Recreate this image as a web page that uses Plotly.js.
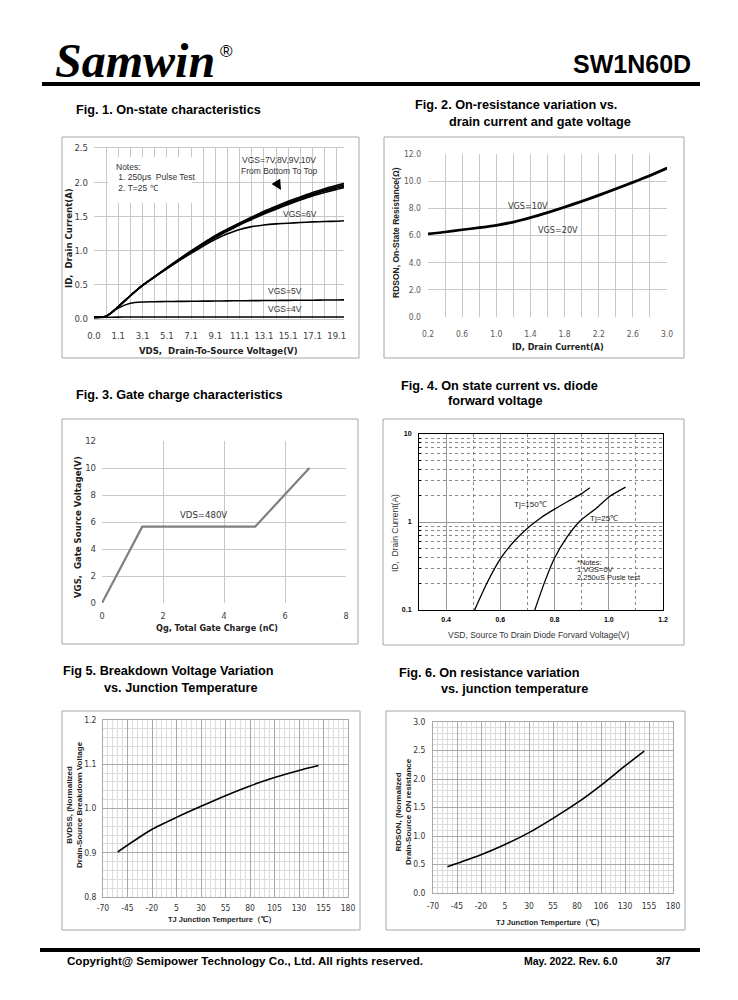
<!DOCTYPE html>
<html><head><meta charset="utf-8">
<script src="https://cdn.plot.ly/plotly-3.0.1.min.js"></script>
<style>html,body{margin:0;padding:0;background:#fff}#chart{width:738px;height:1000px}</style>
</head><body><div id="chart"></div>
<script>
// ---------- Fig.1 On-state characteristics ----------
const fig1Cats = ["0.0","0.6","1.1","2.1","3.1","4.1","5.1","6.1","7.1","8.1","9.1","10.1","11.1","12.1","13.1","14.1","15.1","16.1","17.1","18.1","19.1","20.1"];
const fig1TickText = ["0.0","","1.1","","3.1","","5.1","","7.1","","9.1","","11.1","","13.1","","15.1","","17.1","","19.1",""];
const idVgs10 = [0.025,0.04,0.18,0.34,0.49,0.62,0.75,0.875,0.995,1.11,1.22,1.315,1.405,1.49,1.575,1.65,1.72,1.785,1.85,1.905,1.955,1.995];
const idVgs9  = [0.025,0.04,0.18,0.34,0.49,0.62,0.745,0.87,0.99,1.105,1.21,1.305,1.395,1.48,1.56,1.635,1.705,1.77,1.83,1.885,1.935,1.975];
const idVgs8  = [0.025,0.04,0.18,0.34,0.49,0.62,0.745,0.865,0.985,1.1,1.2,1.295,1.385,1.47,1.55,1.62,1.69,1.755,1.815,1.87,1.915,1.955];
const idVgs7  = [0.025,0.04,0.18,0.34,0.49,0.615,0.74,0.86,0.98,1.09,1.19,1.285,1.375,1.455,1.535,1.605,1.675,1.74,1.8,1.85,1.895,1.935];
const idVgs6  = [0.025,0.04,0.18,0.34,0.49,0.615,0.735,0.85,0.96,1.065,1.165,1.245,1.31,1.35,1.375,1.39,1.4,1.41,1.42,1.425,1.43,1.44];
const idVgs5  = [0.02,0.04,0.16,0.23,0.248,0.252,0.255,0.257,0.259,0.261,0.263,0.265,0.267,0.268,0.27,0.271,0.273,0.274,0.275,0.277,0.278,0.28];
const idVgs4  = [0.02,0.025,0.028,0.03,0.03,0.03,0.03,0.03,0.03,0.03,0.03,0.03,0.03,0.03,0.03,0.03,0.03,0.03,0.03,0.03,0.03,0.03];

// ---------- Fig.2 On-resistance vs drain current ----------
const fig2Id = [0.2,0.4,0.6,0.8,1.0,1.2,1.4,1.6,1.8,2.0,2.2,2.4,2.6,2.8,3.0];
const rdsVgs10 = [6.15,6.28,6.45,6.6,6.78,7.02,7.35,7.72,8.12,8.55,9.0,9.47,9.95,10.45,11.0];
const rdsVgs20 = [6.1,6.23,6.4,6.55,6.72,6.96,7.28,7.65,8.05,8.48,8.93,9.4,9.88,10.38,10.92];

// ---------- Fig.3 Gate charge ----------
const fig3Qg  = [0, 1.32, 5.02, 6.8];
const fig3Vgs = [0, 5.65, 5.65, 10];

// ---------- Fig.4 Diode forward ----------
const vsd150 = [0.505,0.55,0.60,0.65,0.70,0.75,0.80,0.85,0.90,0.93];
const id150  = [0.1,0.2,0.38,0.6,0.85,1.12,1.4,1.72,2.1,2.45];
const vsd25  = [0.727,0.764,0.80,0.844,0.893,0.955,1.004,1.062];
const id25   = [0.1,0.21,0.39,0.66,1.02,1.44,1.96,2.49];

// ---------- Fig.5 BVDSS vs Tj ----------
const fig5Tj = [-55,-20,5,30,55,80,105,130,150];
const fig5Bv = [0.902,0.953,0.980,1.005,1.029,1.051,1.070,1.086,1.097];

// ---------- Fig.6 RDSON vs Tj ----------
const fig6Tj = [-55,-20,5,30,55,80,105,130,150];
const fig6Rn = [0.46,0.67,0.85,1.06,1.31,1.58,1.89,2.23,2.49];
const tjTicks = [-70,-45,-20,5,30,55,80,105,130,155,180];
const fig5TickText = ["-70","-45","-20","5","30","55","80","105","130","155","180"];
const fig6TickText = ["-70","-45","-20","5","30","55","80","106","130","155","180"];

// ---------- helpers ----------
const W = 738, H = 1000;
const px = x => x / W;
const py = y => 1 - y / H;
const NARROW = "Liberation Sans Narrow, Arial Narrow, DejaVu Sans Condensed, sans-serif";
const ARIAL = "Liberation Sans, Arial, sans-serif";

function T(text, x, y, o) {
  o = o || {};
  return {
    text: text, x: px(x), y: py(y), xref: 'paper', yref: 'paper', showarrow: false,
    xanchor: o.xa || 'left', yanchor: 'middle', align: o.align || 'left',
    textangle: o.angle || 0,
    font: {family: o.family || ARIAL, size: o.size || 12, color: o.color || '#000',
           weight: o.bold ? 'bold' : 'normal', style: o.italic ? 'italic' : 'normal'}
  };
}
function box(x0, y0, x1, y1, color) {
  return {type: 'rect', xref: 'paper', yref: 'paper', x0: px(x0), x1: px(x1), y0: py(y1), y1: py(y0),
          line: {color: color || '#a6a6a6', width: 1}, fillcolor: 'rgba(0,0,0,0)', layer: 'above'};
}
function hline(x0, x1, y, w) {
  return {type: 'line', xref: 'paper', yref: 'paper', x0: px(x0), x1: px(x1), y0: py(y), y1: py(y),
          line: {color: '#000', width: w}, layer: 'above'};
}
function ax(o) {
  return Object.assign({showgrid: true, zeroline: false, showline: false, ticks: '', fixedrange: true}, o);
}

const traces = [];
function line(x, y, xa, ya, color, width, shape) {
  traces.push({x: x, y: y, xaxis: xa, yaxis: ya, type: 'scatter', mode: 'lines', hoverinfo: 'skip',
    line: {color: color, width: width, shape: shape || 'spline', smoothing: 0.6}});
}
[idVgs4, idVgs5, idVgs6, idVgs7, idVgs8, idVgs9, idVgs10].forEach(s => line(fig1Cats, s, 'x', 'y', '#000', 1.6));
line(fig2Id, rdsVgs20, 'x2', 'y2', '#000', 2);
line(fig2Id, rdsVgs10, 'x2', 'y2', '#000', 2);
line(fig3Qg, fig3Vgs, 'x3', 'y3', '#7f7f7f', 2.2, 'linear');
line(vsd150, id150, 'x4', 'y4', '#000', 1.3);
line(vsd25, id25, 'x4', 'y4', '#000', 1.3);
line(fig5Tj, fig5Bv, 'x5', 'y5', '#000', 1.6);
line(fig6Tj, fig6Rn, 'x6', 'y6', '#000', 1.6);

const tf = (size, color, family, bold) => ({family: family || NARROW, size: size, color: color || '#404040', weight: bold ? 'bold' : 'normal'});

const layout = {
  width: W, height: H, margin: {l: 0, r: 0, t: 0, b: 0}, showlegend: false,
  paper_bgcolor: '#fff', plot_bgcolor: '#fff',
  // Fig 1
  xaxis: ax({anchor: 'y', domain: [px(94), px(344)], type: 'category', categoryorder: 'array', categoryarray: fig1Cats,
    range: [0, 20.6], tickmode: 'array', tickvals: fig1Cats, ticktext: fig1TickText, gridcolor: '#c8c8c8',
    tickfont: tf(9.5), ticklabelstandoff: 8, showline: true, mirror: true, linecolor: '#c8c8c8'}),
  yaxis: ax({anchor: 'x', domain: [py(319), py(148)], range: [0, 2.5], dtick: 0.5, tick0: 0, tickformat: '.1f',
    gridcolor: '#c8c8c8', tickfont: tf(9.5), ticklabelstandoff: 5}),
  // Fig 2
  xaxis2: ax({anchor: 'y2', domain: [px(428), px(667)], range: [0.2, 3.0], tick0: 0.2, dtick: 0.4, tickformat: '.1f',
    gridcolor: '#c8c8c8', tickfont: tf(8.5, '#595959'), ticklabelstandoff: 10,
    minor: {tick0: 0.2, dtick: 0.2, showgrid: true, gridcolor: '#c8c8c8'}}),
  yaxis2: ax({anchor: 'x2', domain: [py(317), py(154)], range: [0, 12], dtick: 2, tick0: 0, tickformat: '.1f',
    gridcolor: '#c8c8c8', tickfont: tf(8.5, '#595959'), ticklabelstandoff: 6}),
  // Fig 3
  xaxis3: ax({anchor: 'y3', domain: [px(102), px(346)], range: [0, 8], dtick: 2, tick0: 0,
    gridcolor: '#c8c8c8', tickfont: tf(9), ticklabelstandoff: 6}),
  yaxis3: ax({anchor: 'x3', domain: [py(603), py(441)], range: [0, 12], dtick: 2, tick0: 0,
    gridcolor: '#c8c8c8', tickfont: tf(9.5), ticklabelstandoff: 5}),
  // Fig 4
  xaxis4: ax({anchor: 'y4', domain: [px(419), px(663)], range: [0.3, 1.2], tickmode: 'array',
    tickvals: [0.4, 0.6, 0.8, 1.0, 1.2], ticktext: ['0.4', '0.6', '0.8', '1.0', '1.2'],
    gridcolor: '#9a9a9a', tickfont: tf(7, '#000', ARIAL, true), ticklabelstandoff: 3,
    showline: true, mirror: true, linecolor: '#000', linewidth: 1,
    minor: {tickvals: [0.5, 0.7, 0.9, 1.1], showgrid: true, gridcolor: '#888', griddash: 'dot'}}),
  yaxis4: ax({anchor: 'x4', domain: [py(610), py(434)], type: 'log', range: [-1, 1], tickmode: 'array',
    tickvals: [0.1, 1, 10], ticktext: ['0.1', '1', '10'], gridcolor: '#9a9a9a',
    tickfont: tf(7, '#000', ARIAL, true), ticklabelstandoff: 5,
    showline: true, mirror: true, linecolor: '#000', linewidth: 1,
    minor: {tickvals: [0.2,0.3,0.4,0.5,0.6,0.7,0.8,0.9,2,3,4,5,6,7,8,9], showgrid: true, gridcolor: '#888', griddash: 'dot',
      ticks: 'inside', ticklen: 2, tickcolor: '#000'}}),
  // Fig 5
  xaxis5: ax({anchor: 'y5', domain: [px(103), px(348)], range: [-70, 180], tickmode: 'array', tickvals: tjTicks, ticktext: fig5TickText,
    gridcolor: '#a8a8a8', tickfont: tf(8.5, '#333'), ticklabelstandoff: 3,
    showline: true, mirror: true, linecolor: '#a8a8a8',
    minor: {tick0: -70, dtick: 5, showgrid: true, gridcolor: '#dcdcdc'}}),
  yaxis5: ax({anchor: 'x5', domain: [py(897), py(720)], range: [0.8, 1.2], tick0: 0.8, dtick: 0.1, tickformat: '.1f',
    gridcolor: '#a8a8a8', tickfont: tf(8.5, '#333'), ticklabelstandoff: 4,
    showline: true, mirror: true, linecolor: '#a8a8a8',
    minor: {tick0: 0.8, dtick: 0.02, showgrid: true, gridcolor: '#dcdcdc'}}),
  // Fig 6
  xaxis6: ax({anchor: 'y6', domain: [px(433), px(673)], range: [-70, 180], tickmode: 'array', tickvals: tjTicks, ticktext: fig6TickText,
    gridcolor: '#a8a8a8', tickfont: tf(8.5, '#333'), ticklabelstandoff: 5,
    showline: true, mirror: true, linecolor: '#a8a8a8',
    minor: {tick0: -70, dtick: 5, showgrid: true, gridcolor: '#dcdcdc'}}),
  yaxis6: ax({anchor: 'x6', domain: [py(893), py(722)], range: [0, 3], tick0: 0, dtick: 0.5, tickformat: '.1f',
    gridcolor: '#a8a8a8', tickfont: tf(8.5, '#333'), ticklabelstandoff: 5,
    showline: true, mirror: true, linecolor: '#a8a8a8',
    minor: {tick0: 0, dtick: 0.1, showgrid: true, gridcolor: '#dcdcdc'}}),
  shapes: [
    hline(42, 700, 84, 4),
    hline(40, 700, 950, 4),
    box(62, 137, 359, 358), box(384, 137, 684, 358),
    box(62, 419, 358, 644), box(383, 419, 684, 645),
    box(62, 711, 360, 930), box(386, 711, 685, 930),
    {type: 'rect', xref: 'paper', yref: 'paper', x0: px(108), x1: px(192), y0: py(203), y1: py(157),
     line: {width: 0}, fillcolor: '#fff', layer: 'above'}
  ],
  annotations: [
    // header / footer
    T('Samwin', 53, 61, {family: 'Liberation Serif, Times New Roman, serif', size: 48, bold: true, italic: true}),
    T('®', 226, 51, {xa: 'center', size: 17}),
    T('SW1N60D', 693, 64, {xa: 'right', size: 25, bold: true}),
    T('Copyright@ Semipower Technology Co., Ltd. All rights reserved.', 65, 960, {size: 11.6, bold: true}),
    T('May. 2022. Rev. 6.0', 522, 961, {size: 10.5, bold: true}),
    T('3/7', 654, 961, {size: 10.5, bold: true}),
    // figure titles
    T('Fig. 1. On-state characteristics', 74, 110, {size: 12.7, bold: true}),
    T('Fig. 2. On-resistance variation vs.', 413, 105, {size: 12.7, bold: true}),
    T('drain current and gate voltage', 447, 122, {size: 12.7, bold: true}),
    T('Fig. 3. Gate charge characteristics', 74, 395, {size: 12.7, bold: true}),
    T('Fig. 4. On state current vs. diode', 399, 386, {size: 12.7, bold: true}),
    T('forward voltage', 446, 401, {size: 12.7, bold: true}),
    T('Fig 5. Breakdown Voltage Variation', 61, 671, {size: 12.7, bold: true}),
    T('vs. Junction Temperature', 102, 688, {size: 12.7, bold: true}),
    T('Fig. 6. On resistance variation', 397, 673, {size: 12.7, bold: true}),
    T('vs. junction temperature', 439, 689, {size: 12.7, bold: true}),
    // fig 1 texts
    T('ID,  Drain Current(A)', 68, 238, {xa: 'center', angle: -90, family: NARROW, size: 9.5, bold: true, color: '#222'}),
    T('VDS,  Drain-To-Source Voltage(V)', 218, 350, {xa: 'center', family: NARROW, size: 9.5, bold: true, color: '#222'}),
    T('Notes:', 114, 167, {family: ARIAL, size: 8.5, color: '#333'}),
    T(' 1. 250μs  Pulse Test', 114, 177, {family: ARIAL, size: 8.5, color: '#333'}),
    T(' 2. T=25 ℃', 114, 188, {family: ARIAL, size: 8.5, color: '#333'}),
    T('VGS=7V,8V,9V,10V', 279, 160, {xa: 'center', size: 8.5, color: '#333'}),
    T('From Bottom To Top', 279, 171, {xa: 'center', size: 8.5, color: '#333'}),
    T('VGS=6V', 300, 214, {xa: 'center', size: 8.5, color: '#333'}),
    T('VGS=5V', 285, 291, {xa: 'center', size: 8.5, color: '#333'}),
    T('VGS=4V', 285, 309, {xa: 'center', size: 8.5, color: '#333'}),
    {x: px(281), y: py(190), xref: 'paper', yref: 'paper', text: '', showarrow: true,
     ax: -6, ay: -10, arrowhead: 2, arrowsize: 1, arrowwidth: 2, arrowcolor: '#000'},
    // fig 2 texts
    T('RDSON, On-State Resistance(Ω)', 396, 233, {xa: 'center', angle: -90, size: 8.5, bold: true, color: '#222'}),
    T('ID, Drain Current(A)', 558, 347, {xa: 'center', family: NARROW, size: 9, bold: true, color: '#222'}),
    T('VGS=10V', 528, 206, {xa: 'center', family: NARROW, size: 9, color: '#333'}),
    T('VGS=20V', 558, 230, {xa: 'center', family: NARROW, size: 9, color: '#333'}),
    // fig 3 texts
    T('VGS,  Gate Source Voltage(V)', 77, 527, {xa: 'center', angle: -90, family: NARROW, size: 9.5, bold: true, color: '#222'}),
    T('Qg, Total Gate Charge (nC)', 217, 628, {xa: 'center', family: NARROW, size: 9, bold: true, color: '#222'}),
    T('VDS=480V', 203, 514, {xa: 'center', family: NARROW, size: 9.5, color: '#333'}),
    // fig 4 texts
    T('ID,  Drain Current(A)', 395, 533, {xa: 'center', angle: -90, size: 8.5, color: '#333'}),
    T('VSD, Source To Drain Diode Forvard Voltage(V)', 538, 635, {xa: 'center', size: 8.5, color: '#333'}),
    T('Tj=150℃', 530, 504, {xa: 'center', size: 8, color: '#222'}),
    T('Tj=25℃', 604, 518, {xa: 'center', size: 8, color: '#222'}),
    T('*Notes:', 575, 562, {size: 7.5, color: '#222'}),
    T('1.VGS=0V', 575, 569.5, {size: 7.5, color: '#222'}),
    T('2.250uS Pusle test', 575, 577, {size: 7.5, color: '#222'}),
    // fig 5 texts
    T('BVDSS, (Normalized<br>Drain-Source Breakdown Voltage', 74, 805, {xa: 'center', align: 'center', angle: -90, size: 8, bold: true, color: '#222'}),
    T('TJ Junction Temperture（℃）', 222, 919, {xa: 'center', size: 7.5, bold: true, color: '#222'}),
    // fig 6 texts
    T('RDSON, (Normalized<br>Drain-Source ON resistance', 403, 812, {xa: 'center', align: 'center', angle: -90, size: 8, bold: true, color: '#222'}),
    T('TJ Junction Temperture（℃）', 550, 922, {xa: 'center', size: 7.5, bold: true, color: '#222'})
  ]
};

Plotly.newPlot('chart', traces, layout, {staticPlot: true, displayModeBar: false});
</script></body></html>
